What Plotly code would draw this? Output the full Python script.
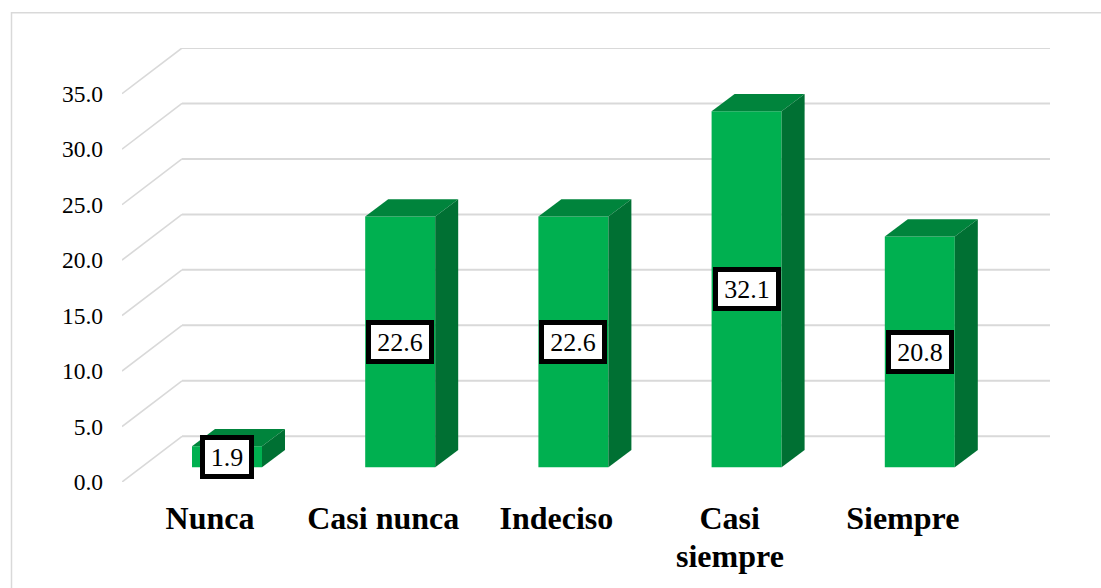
import plotly.graph_objects as go

categories = ["Nunca", "Casi nunca", "Indeciso", "Casi siempre", "Siempre"]
first_lines = ["Nunca", "Casi nunca", "Indeciso", "Casi", "Siempre"]
second_lines = ["", "", "", "siempre", ""]
values = [1.9, 22.6, 22.6, 32.1, 20.8]
y_ticks = [0, 5, 10, 15, 20, 25, 30, 35]

W, H = 1101, 588
L, R, B = 122, 1050, 482             # plot area in page pixels
UNIT = 388 / 35                      # pixels per value unit
STEP = 173.2                         # pixels per category
X0 = 227                             # pixel centre of the first bar

wall_dx, wall_dy = 60 / STEP, 45.7 / UNIT
y_max = 35 + wall_dy
T = B - y_max * UNIT
x_min, x_max = (L - X0) / STEP, (R - X0) / STEP
half = 35 / STEP
base = 14.7 / UNIT
dx, dy = 23 / STEP, 17.3 / UNIT

FONT = "Liberation Serif"
FRONT, TOP, SIDE = "#00B050", "#00843C", "#007033"

fig = go.Figure()
xs = list(range(len(values)))

fig.add_trace(go.Bar(x=xs, y=values, base=[base] * len(values), width=2 * half,
                     marker=dict(color=FRONT, line=dict(width=0)), hoverinfo="skip"))

for i, v in zip(xs, values):
    yt = base + v
    fig.add_trace(go.Scatter(
        x=[i - half, i + half, i + half + dx, i - half + dx, i - half],
        y=[yt, yt, yt + dy, yt + dy, yt],
        fill="toself", fillcolor=TOP, mode="lines", line=dict(width=0), hoverinfo="skip"))
    fig.add_trace(go.Scatter(
        x=[i + half, i + half + dx, i + half + dx, i + half, i + half],
        y=[base, base + dy, yt + dy, yt, base],
        fill="toself", fillcolor=SIDE, mode="lines", line=dict(width=0), hoverinfo="skip"))

# Walls: one diagonal plus one back line per tick
wall_left = x_min + wall_dx
for t in y_ticks:
    fig.add_shape(type="line", xref="x", yref="y", layer="below",
                  x0=x_min, y0=t, x1=wall_left, y1=t + wall_dy,
                  line=dict(color="#D9D9D9", width=1.6))
    fig.add_shape(type="line", xref="x", yref="y", layer="below",
                  x0=wall_left, y0=t + wall_dy, x1=x_max, y1=t + wall_dy,
                  line=dict(color="#D9D9D9", width=2))

# Chart frame: left and top edges are the visible ones
px = lambda p: (p - L) / (R - L)
py = lambda p: (B - p) / (B - T)
fig.add_shape(type="rect", xref="paper", yref="paper", layer="below",
              x0=px(11.5), x1=px(1150), y0=py(13), y1=py(640),
              line=dict(color="#D9D9D9", width=1.5), fillcolor="rgba(0,0,0,0)")

label_x = [i - 17 / STEP for i in xs]

for i, v in zip(xs, values):
    text = f"{v:.1f}"
    fig.add_annotation(x=i, y=base + v / 2, xref="x", yref="y", text=text,
                       showarrow=False, bgcolor="white", bordercolor="black",
                       borderwidth=5, borderpad=4, width=14 * len(text) - 6, height=26,
                       font=dict(family=FONT, size=26, color="black"))

# Second line of a wrapped category label, closer to the first than a tick label's <br> allows
for x, text in zip(label_x, second_lines):
    if text:
        fig.add_annotation(x=x, y=py(556), xref="x", yref="paper", text=f"<b>{text}</b>",
                           showarrow=False, yanchor="middle",
                           font=dict(family=FONT, size=32, color="black"))

fig.update_layout(
    width=W, height=H, autosize=False, showlegend=False, barmode="overlay",
    paper_bgcolor="white", plot_bgcolor="rgba(0,0,0,0)",
    margin=dict(l=L, r=W - R, t=T, b=H - B, pad=0),
    xaxis=dict(range=[x_min, x_max], showgrid=False, zeroline=False, showline=False,
               tickmode="array", tickvals=label_x,
               ticktext=[f"<b>{c}</b>" for c in first_lines],
               ticks="", ticklabelstandoff=14, automargin=False,
               tickfont=dict(family=FONT, size=32, color="black")),
    yaxis=dict(range=[0, y_max], showgrid=False, zeroline=False, showline=False,
               tickmode="array", tickvals=y_ticks, ticktext=[f"{t:.1f}" for t in y_ticks],
               ticks="", ticklabelstandoff=18, automargin=False,
               tickfont=dict(family=FONT, size=23.5, color="black")),
)
fig.update_traces(cliponaxis=False)
fig.write_html("out.html", config={"displayModeBar": False},
               post_script="document.body.style.margin='0';document.documentElement.style.overflow='hidden';")
